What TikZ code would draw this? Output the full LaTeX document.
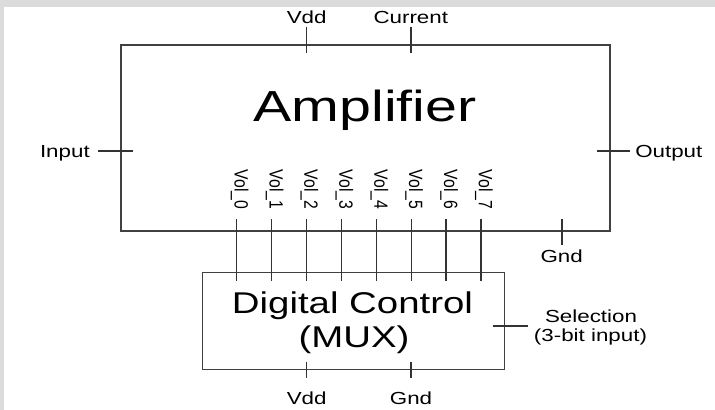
\documentclass[tikz,border=0pt]{standalone}
\usepackage{fontspec}
\setmainfont{Liberation Sans}
\newfontfamily\stretchfont[FakeStretch=1.28]{Liberation Sans}
\newfontfamily\bigstretchfont[FakeStretch=1.32]{Liberation Sans}
\newcommand{\tallvol}[1]{\scalebox{1}[1.22]{Vol\_#1}}
\begin{document}
\begin{tikzpicture}[x=0.75pt,y=-0.75pt,
  wire/.style={line width=1pt, draw=black!80},
  box/.style={draw=black!75, line width=1pt, inner sep=0pt, fill=none},
  lbl/.style={font=\stretchfont\fontsize{13.1}{15}\selectfont, inner sep=0pt, anchor=base},
  vol/.style={font=\fontsize{11.8}{14}\selectfont, inner sep=0pt, rotate=-90},
  big/.style={font=\bigstretchfont\fontsize{32.6}{39}\selectfont, inner sep=0pt, anchor=base},
  mid/.style={font=\stretchfont\fontsize{22.5}{27}\selectfont, inner sep=0pt, anchor=base}]
\fill[black!14] (0,0) rectangle (715,410);
\fill[white] (4,7) rectangle (715,410);
\useasboundingbox (0,0) rectangle (715,410);

% boxes
\node[box, minimum width=366.75pt, minimum height=139.5pt] (amp) at (365.5,138) {};
\node[box, minimum width=226.5pt, minimum height=72.5pt] (mux) at (353.3,321) {};

% box texts
\node[big] (amptext) at (365,121.7) {Amplifier};
\node[mid] (muxtext1) at (352.5,313) {Digital Control};
\node[mid] (muxtext2) at (354,347.5) {(MUX)};

% amplifier pins
\node[lbl] (vddA) at (306.7,24) {Vdd};
\node[lbl] (curA) at (410.8,24) {Current};
\node[lbl, anchor=base east] (inA) at (90,157) {Input};
\node[lbl, anchor=base west] (outA) at (635,157) {Output};
\node[lbl] (gndA) at (561.7,262.7) {Gnd};

\coordinate (vddA1) at (306.7,27);  \coordinate (vddA2) at (306.7,53);
\coordinate (curA1) at (411,27);    \coordinate (curA2) at (411,53);
\coordinate (inA1) at (98,151);     \coordinate (inA2) at (133,151);
\coordinate (outA1) at (597,151);   \coordinate (outA2) at (630,151);
\coordinate (gndA1) at (562,219);   \coordinate (gndA2) at (562,245);
\draw[wire] (vddA1) -- (vddA2);
\draw[wire] (curA1) -- (curA2);
\draw[wire] (inA1) -- (inA2);
\draw[wire] (outA1) -- (outA2);
\draw[wire] (gndA1) -- (gndA2);

% Vol lines
\foreach \i in {0,...,7} {
  \pgfmathsetmacro{\xx}{236.7+34.9*\i}
  \node[vol] (vol\i) at (\xx+3,189.5) {\tallvol{\i}};
  \coordinate (vt\i) at (\xx,219);
  \coordinate (vb\i) at (\xx,280.7);
  \draw[wire] (vt\i) -- (vb\i);
}

% mux pins
\node[lbl] (selA) at (591,322) {Selection};
\node[lbl] (selB) at (590.5,341) {(3-bit input)};
\node[lbl] (vddM) at (306.7,404) {Vdd};
\node[lbl] (gndM) at (411,404) {Gnd};
\coordinate (sel1) at (493,326);    \coordinate (sel2) at (528,326);
\coordinate (vddM1) at (306.7,361.7); \coordinate (vddM2) at (306.7,378.3);
\coordinate (gndM1) at (411,361.7);   \coordinate (gndM2) at (411,378.3);
\draw[wire] (sel1) -- (sel2);
\draw[wire] (vddM1) -- (vddM2);
\draw[wire] (gndM1) -- (gndM2);
\end{tikzpicture}
\end{document}
